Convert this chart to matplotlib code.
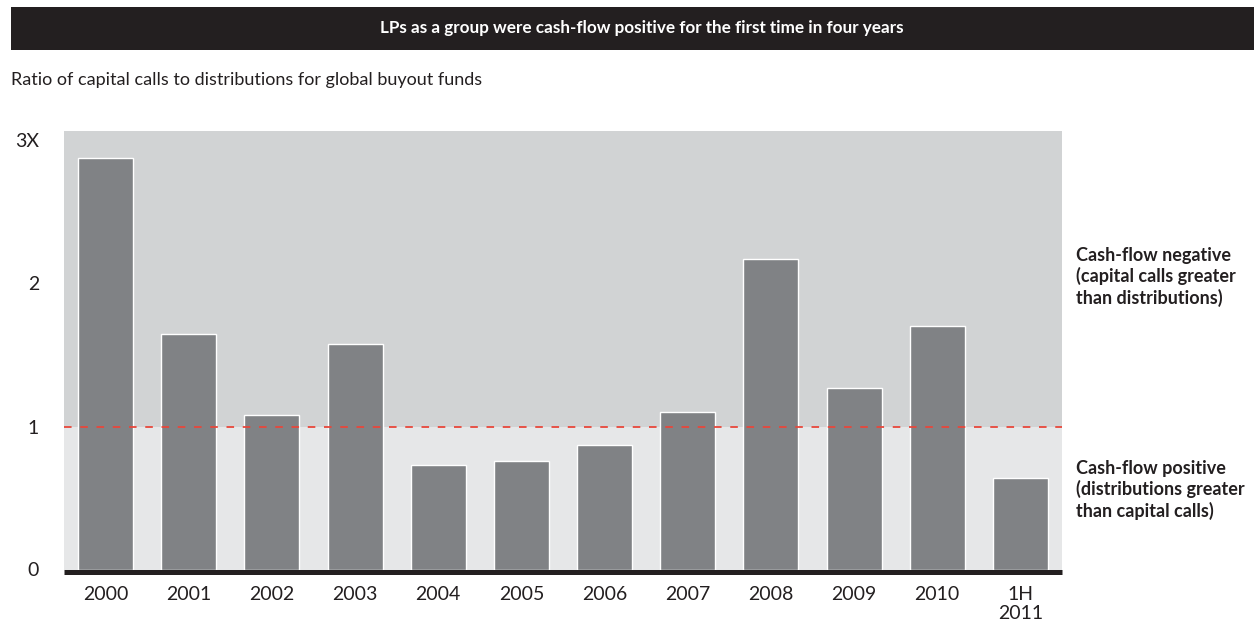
import matplotlib
matplotlib.use("Agg")
import matplotlib.pyplot as plt
from matplotlib.patches import Rectangle

plt.rcParams['font.family'] = ['Lato', 'DejaVu Sans']

# Data
categories = ["2000", "2001", "2002", "2003", "2004", "2005", "2006",
              "2007", "2008", "2009", "2010", "1H\n2011"]
ratios = [2.88, 1.65, 1.08, 1.58, 0.73, 0.76, 0.87, 1.10, 2.17, 1.27, 1.70, 0.64]
ytick_values = [0, 1, 2, 3]
ytick_labels = ["0", "1", "2", "3X"]
breakeven = 1.0

title = "LPs as a group were cash-flow positive for the first time in four years"
subtitle = "Ratio of capital calls to distributions for global buyout funds"
note_negative = "Cash-flow negative\n(capital calls greater\nthan distributions)"
note_positive = "Cash-flow positive\n(distributions greater\nthan capital calls)"

# Colours
DARK = "#231f20"
UPPER_BG = "#d1d3d4"
LOWER_BG = "#e6e7e8"
BAR = "#808285"
RED = "#e8473b"

W, H = 1254, 626
fig = plt.figure(figsize=(W / 100, H / 100), dpi=100)

# Title banner
fig.patches.append(Rectangle((11 / W, 1 - 50 / H), 1 - 11 / W, 43 / H,
                             transform=fig.transFigure, facecolor=DARK,
                             edgecolor="none", zorder=0))
fig.text(0.512, 1 - 28.5 / H, title, color="white", fontsize=12.3,
         fontweight="bold", ha="center", va="center")
fig.text(11 / W, 1 - 80 / H, subtitle, color=DARK, fontsize=13,
         ha="left", va="center")

# Plot area
left_px, right_px, top_px, bottom_px = 64, 1062, 131, 572
ax = fig.add_axes([left_px / W, 1 - bottom_px / H,
                   (right_px - left_px) / W, (bottom_px - top_px) / H])
unit = 143.0
ymin = -2.5 / unit
ymax = (bottom_px - top_px) / unit + ymin
ax.set_ylim(ymin, ymax)
ax.set_xlim(-0.5, len(categories) - 0.5)
ax.set_facecolor("white")

ax.axhspan(breakeven, ymax, color=UPPER_BG, lw=0, zorder=0)
ax.axhspan(0, breakeven, color=LOWER_BG, lw=0, zorder=0)

x = range(len(categories))
ax.bar(x, ratios, width=0.66, color=BAR, edgecolor="white", linewidth=1.0,
       zorder=2)

ax.axhline(breakeven, color=RED, lw=1.3, linestyle=(0, (4.2, 4.8)), zorder=3)

for side in ["top", "left", "right"]:
    ax.spines[side].set_visible(False)
ax.spines["bottom"].set_color(DARK)
ax.spines["bottom"].set_linewidth(3.6)
ax.spines["bottom"].set_capstyle("butt")
ax.spines["bottom"].set_zorder(4)

ax.set_yticks(ytick_values)
ax.set_yticklabels(ytick_labels)
ax.set_xticks(list(x))
ax.set_xticklabels(categories, linespacing=1.15)
ax.tick_params(axis="y", length=0, pad=18, labelsize=14, labelcolor=DARK)
ax.tick_params(axis="x", length=0, pad=10, labelsize=14, labelcolor=DARK)
for lbl in ax.get_xticklabels():
    lbl.set_va("top")

# Region notes on the right
fig.text(1076 / W, 1 - 277 / H, note_negative, color=DARK, fontsize=13,
         fontweight="bold", ha="left", va="center", linespacing=1.25)
fig.text(1076 / W, 1 - 490 / H, note_positive, color=DARK, fontsize=13,
         fontweight="bold", ha="left", va="center", linespacing=1.25)

fig.savefig("out.png", dpi=100)
